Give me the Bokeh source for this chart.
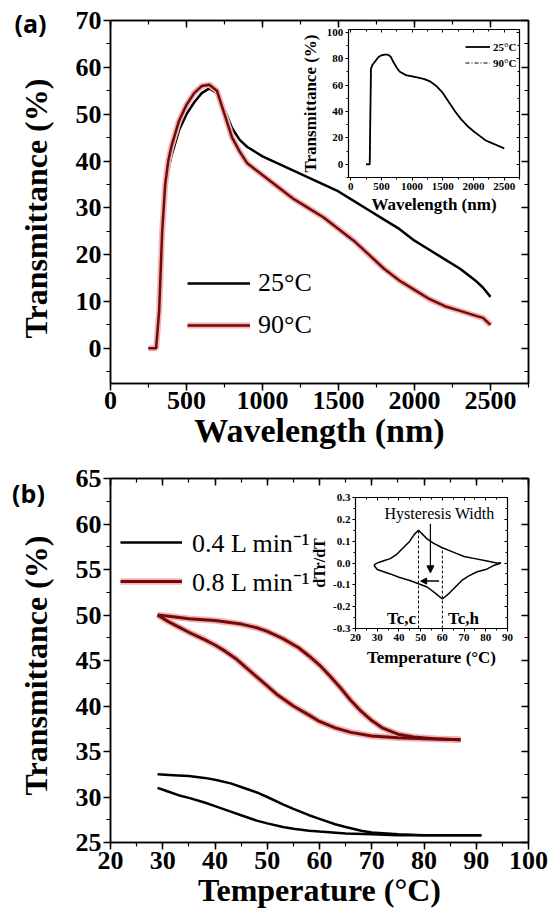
import numpy as np
from bokeh.plotting import figure
from bokeh.layouts import column, row
from bokeh.models import (Range1d, LinearAxis, SingleIntervalTicker, Legend,
                          LegendItem, Label, Arrow, NormalHead, PrintfTickFormatter)
from bokeh.embed import file_html
from bokeh.resources import INLINE

SERIF = "Liberation Serif"

# ---------------- data : panel (a) ----------------
wavelength = [250, 300, 320, 340, 360, 380, 400, 450, 500, 550, 600, 650, 700, 750, 800, 850, 900,
              1000, 1100, 1200, 1300, 1400, 1500, 1600, 1700, 1800, 1900, 2000, 2100, 2200, 2300,
              2400, 2450, 2500]
trans_25c = [0, 0, 8, 24, 33, 38, 41, 46.5, 50, 52.5, 54.5, 55.5, 54.5, 51, 47, 44.5, 43,
             41, 39.5, 38, 36.5, 35, 33.5, 31.5, 29.5, 27.5, 25.5, 23, 21, 19, 17,
             14.5, 13, 11]
trans_90c = [0, 0, 8, 25, 35, 40, 43, 48.5, 52, 54.5, 56, 56.3, 55, 50, 45, 42, 39.5,
             37, 34.5, 32, 30, 28, 25.5, 23, 20, 17, 14.5, 12.5, 10.5, 9, 8,
             7, 6.5, 5]

# inset (a)
inset_wl = [250, 310, 330, 350, 400, 450, 500, 550, 600, 650, 700, 750, 800, 900, 1000, 1100,
            1200, 1300, 1400, 1500, 1600, 1700, 1800, 1900, 2000, 2100, 2200, 2300, 2400, 2500]
inset_25c = [0, 0, 72, 75, 78, 81, 82.5, 83, 83, 81.5, 77, 73, 70, 67.5, 66.5, 65.5,
             64.5, 62.5, 59, 54, 47, 40, 34, 29, 25, 21.5, 18, 16, 14, 12]
inset_90c = [0, 0, 72, 75, 78, 81, 82.5, 83, 83, 81.5, 77, 73, 70, 67.5, 66.5, 65.5,
             64.5, 62.5, 59, 54, 47, 40, 34, 29, 25, 21.5, 18, 16, 14, 12]

# ---------------- data : panel (b) ----------------
t_red_up = [29, 32, 35, 40, 45, 48, 50, 53, 56, 58, 60, 62, 64, 66, 68, 70, 72, 75, 78, 82, 87]
tr_red_up = [50, 49.8, 49.6, 49.4, 49, 48.6, 48.2, 47.4, 46.4, 45.5, 44.5, 43.3, 42, 40.6, 39.4,
             38.4, 37.6, 36.9, 36.6, 36.4, 36.3]
t_red_low = [29, 31, 33, 35, 38, 40, 42, 44, 46, 48, 50, 52, 55, 58, 60, 63, 66, 70, 75, 80, 87]
tr_red_low = [50, 49.3, 48.7, 48.1, 47.3, 46.7, 46, 45.2, 44.2, 43.2, 42.2, 41.2, 40, 39, 38.3,
              37.6, 37.1, 36.7, 36.5, 36.4, 36.3]
t_blk_up = [29, 32, 35, 38, 40, 43, 45, 48, 50, 53, 55, 58, 60, 63, 65, 68, 70, 75, 80, 85, 91]
tr_blk_up = [32.5, 32.4, 32.3, 32.1, 31.9, 31.5, 31.1, 30.5, 30.0, 29.2, 28.7, 28.0, 27.6, 27.0,
             26.7, 26.3, 26.1, 25.9, 25.8, 25.8, 25.8]
t_blk_low = [29, 31, 33, 35, 38, 40, 43, 45, 48, 50, 53, 55, 58, 60, 65, 70, 75, 80, 85, 91]
tr_blk_low = [31.0, 30.6, 30.2, 29.9, 29.4, 29.0, 28.4, 28.0, 27.4, 27.1, 26.7, 26.5, 26.3, 26.2,
              26.0, 25.9, 25.8, 25.8, 25.8, 25.8]

# inset (b): dTr/dT loop
d_t_up = [28.5, 30, 33, 36, 39, 42, 45, 47, 49, 51, 53, 56, 60, 65, 70, 75, 80, 85, 87]
d_up = [-0.01, 0.0, 0.01, 0.02, 0.04, 0.07, 0.10, 0.13, 0.15, 0.13, 0.11, 0.09, 0.07, 0.05, 0.03,
        0.02, 0.01, 0.0, 0.0]
d_t_low = [28.5, 30, 33, 36, 40, 45, 49, 53, 57, 60, 63, 66, 69, 72, 76, 80, 84, 87]
d_low = [-0.01, -0.03, -0.04, -0.05, -0.065, -0.08, -0.095, -0.11, -0.14, -0.165, -0.14, -0.11,
         -0.08, -0.06, -0.04, -0.03, -0.01, 0.0]
tc_values = [49, 60]
tc_tops = [0.15, 0.07]

STRIP_W = 56
W, H = 551 - STRIP_W, 458
RED = "#720a0a"
HALO = "#f0b4b4"


def base_fig(xr, yr, frame):
    L, T, R, B = frame
    p = figure(width=W, height=H, x_range=Range1d(*xr), y_range=Range1d(*yr),
               output_backend="svg", toolbar_location=None,
               x_axis_type=None, y_axis_type=None,
               min_border_left=L, min_border_right=W - R, min_border_top=T,
               min_border_bottom=H - B,
               background_fill_color="white", border_fill_color="white",
               outline_line_color="black", outline_line_width=1.5)
    p.grid.visible = False
    return p


HIDDEN = dict(major_label_text_font_size="1px", major_label_text_color=None,
              major_label_text_alpha=0, major_label_standoff=0)
TITLE = dict(axis_label_text_font=SERIF, axis_label_text_font_style="bold",
             axis_label_text_color="black")


def main_axes(p, xint, yint, xtitle, xtitle_size, x_stand, x_lab_stand):
    style = dict(axis_line_width=1.5, axis_line_color="black", major_tick_line_width=1.5,
                 minor_tick_line_width=1.2, major_tick_line_color="black",
                 minor_tick_line_color="black")
    lab = dict(major_label_text_font=SERIF, major_label_text_font_style="bold",
               major_label_text_font_size="26px", major_label_text_color="black")
    outt = dict(major_tick_out=7, major_tick_in=0, minor_tick_out=4, minor_tick_in=0)
    inn = dict(major_tick_out=0, major_tick_in=7, minor_tick_out=0, minor_tick_in=4, **HIDDEN)
    p.add_layout(LinearAxis(ticker=SingleIntervalTicker(interval=xint, num_minor_ticks=2),
                            axis_label=xtitle, axis_label_text_font_size=xtitle_size,
                            axis_label_standoff=x_stand, major_label_standoff=x_lab_stand,
                            **TITLE, **style, **lab, **outt), "below")
    p.add_layout(LinearAxis(ticker=SingleIntervalTicker(interval=yint, num_minor_ticks=2),
                            major_label_standoff=2, **style, **lab, **outt), "left")
    p.add_layout(LinearAxis(ticker=SingleIntervalTicker(interval=xint, num_minor_ticks=2),
                            **style, **inn), "above")
    p.add_layout(LinearAxis(ticker=SingleIntervalTicker(interval=yint, num_minor_ticks=2),
                            **style, **inn), "right")


def inset_ranges(p, frame, box, xb, yb):
    L, T, R, B = frame
    l, t, r, b = box
    x0, x1 = xb
    y0, y1 = yb
    sx = (r - l) / (x1 - x0)
    sy = (b - t) / (y1 - y0)
    p.extra_x_ranges = {"ix": Range1d(x0 - (l - L) / sx, x1 + (R - r) / sx)}
    p.extra_y_ranges = {"iy": Range1d(y0 - (B - b) / sy, y1 + (t - T) / sy)}
    p.quad(left=[x0], right=[x1], bottom=[y0], top=[y1], fill_color="white",
           line_color=None, x_range_name="ix", y_range_name="iy")


def inset_axes(p, xb, yb, xint, yint, xlab, ylab, tick_font, xlab_font, ylab_font,
               xals, yals, yfmt=None, eps=0.0):
    x0, x1 = xb
    y0, y1 = yb
    rn = dict(x_range_name="ix", y_range_name="iy")
    style = dict(axis_line_width=1.2, axis_line_color="black", major_tick_line_width=1,
                 minor_tick_line_width=1, major_tick_line_color="black",
                 minor_tick_line_color="black")
    lab = dict(major_label_text_font=SERIF, major_label_text_font_style="bold",
               major_label_text_font_size=tick_font, major_label_text_color="black",
               major_label_standoff=2, **TITLE)
    outt = dict(major_tick_out=3, major_tick_in=0, minor_tick_out=2, minor_tick_in=0)
    inn = dict(major_tick_out=0, major_tick_in=3, minor_tick_out=0, minor_tick_in=2, **HIDDEN)
    ybnd = (y0 - eps, y1 + eps)
    bot = LinearAxis(fixed_location=y0, bounds=(x0, x1),
                     ticker=SingleIntervalTicker(interval=xint, num_minor_ticks=2),
                     axis_label=xlab, axis_label_text_font_size=xlab_font,
                     axis_label_standoff=xals, **rn, **style, **lab, **outt)
    p.add_layout(bot, "below")
    lft = LinearAxis(fixed_location=x0, bounds=ybnd,
                     ticker=SingleIntervalTicker(interval=yint, num_minor_ticks=2),
                     axis_label=ylab, axis_label_text_font_size=ylab_font,
                     axis_label_standoff=yals, **rn, **style, **lab, **outt)
    if yfmt is not None:
        lft.formatter = yfmt
    p.add_layout(lft, "left")
    p.add_layout(LinearAxis(fixed_location=y1, bounds=(x0, x1),
                            ticker=SingleIntervalTicker(interval=xint, num_minor_ticks=2),
                            **rn, **style, **inn), "above")
    p.add_layout(LinearAxis(fixed_location=x1, bounds=ybnd,
                            ticker=SingleIntervalTicker(interval=yint, num_minor_ticks=2),
                            **rn, **style, **inn), "right")


# ================= left strip: panel tags and y titles =================
strip = figure(width=STRIP_W, height=2 * H, x_range=Range1d(0, STRIP_W),
               y_range=Range1d(2 * H, 0), output_backend="svg", toolbar_location=None,
               x_axis_type=None, y_axis_type=None, min_border=0,
               outline_line_color=None, background_fill_color="white",
               border_fill_color="white")
strip.grid.visible = False
for sx_, sy_, txt, font, size, ang in [
        (30, 22, "(a)", "Open Sans", "25px", 0.0),
        (35, 208, "Transmittance (%)", SERIF, "32px", np.pi / 2),
        (28, 492, "(b)", "Open Sans", "25px", 0.0),
        (35, 665, "Transmittance (%)", SERIF, "32px", np.pi / 2)]:
    strip.add_layout(Label(x=sx_, y=sy_, text=txt, text_font=font, text_font_style="bold",
                           text_font_size=size, text_align="center", text_baseline="middle",
                           text_color="black", angle=ang))

# ================= panel (a) =================
FA = (110 - STRIP_W, 20, 532 - STRIP_W, 383)
XA, YA = (0, 2750), (-7.5, 70)
pa = base_fig(XA, YA, FA)
main_axes(pa, 500, 10, "Wavelength (nm)", "34px", 0, 1)

r25 = pa.line(wavelength, trans_25c, line_color="black", line_width=2.5)
r90h = pa.line(wavelength, trans_90c, line_color=HALO, line_width=6)
r90 = pa.line(wavelength, trans_90c, line_color=RED, line_width=2.5)

leg_a = Legend(items=[LegendItem(label="25°C", renderers=[r25]),
                      LegendItem(label="90°C", renderers=[r90h, r90])],
               location=(77, 43), padding=0, spacing=12, label_height=30, glyph_height=30,
               glyph_width=63, label_standoff=8, border_line_alpha=0,
               background_fill_alpha=0, label_text_font=SERIF, label_text_font_size="26px",
               label_text_color="black")
pa.add_layout(leg_a)

# inset (a)
IA_X, IA_Y = (-40, 2750), (-10, 102)
inset_ranges(pa, FA, (350 - STRIP_W, 29, 523 - STRIP_W, 177), IA_X, IA_Y)
ri25 = pa.line(inset_wl, inset_25c, line_color="black", line_width=1.8,
               x_range_name="ix", y_range_name="iy")
ri90 = pa.line(inset_wl, inset_90c, line_color="black", line_width=1, line_dash="4 2 1 2",
               x_range_name="ix", y_range_name="iy")
inset_axes(pa, IA_X, IA_Y, 500, 20, "Wavelength (nm)", "Transmittance (%)",
           "11px", "17px", "17px", 2, 4)
leg_ai = Legend(items=[LegendItem(label="25°C", renderers=[ri25]),
                       LegendItem(label="90°C", renderers=[ri90])],
                location=(355, 314), padding=0, spacing=3, label_height=13, glyph_height=13,
                glyph_width=25, label_standoff=3, border_line_alpha=0,
                background_fill_alpha=0, label_text_font=SERIF,
                label_text_font_style="bold", label_text_font_size="11px",
                label_text_color="black")
pa.add_layout(leg_ai)

# ================= panel (b) =================
FB = (110 - STRIP_W, 20, 528 - STRIP_W, 384)
XB, YB = (20, 100), (25, 65)
pb = base_fig(XB, YB, FB)
main_axes(pb, 10, 5, "Temperature (°C)", "32px", 0, 2)

rb4a = pb.line(t_blk_up, tr_blk_up, line_color="black", line_width=2.5)
rb4b = pb.line(t_blk_low, tr_blk_low, line_color="black", line_width=2.5)
rb8h1 = pb.line(t_red_up, tr_red_up, line_color=HALO, line_width=6.5)
rb8h2 = pb.line(t_red_low, tr_red_low, line_color=HALO, line_width=6.5)
rb8a = pb.line(t_red_up, tr_red_up, line_color=RED, line_width=3)
rb8b = pb.line(t_red_low, tr_red_low, line_color=RED, line_width=3)

leg_b = Legend(items=[LegendItem(label="0.4 L min⁻¹", renderers=[rb4a]),
                      LegendItem(label="0.8 L min⁻¹", renderers=[rb8h1, rb8a])],
               location=(10, 243), padding=0, spacing=3, label_height=34, glyph_height=34,
               glyph_width=62, label_standoff=10, border_line_alpha=0,
               background_fill_alpha=0, label_text_font=SERIF, label_text_font_size="26px",
               label_text_color="black")
pb.add_layout(leg_b)

# inset (b)
IB_X, IB_Y = (20, 90), (-0.3, 0.3)
inset_ranges(pb, FB, (355 - STRIP_W, 39, 507 - STRIP_W, 170), IB_X, IB_Y)
pb.line(d_t_up, d_up, line_color="black", line_width=1.5, x_range_name="ix", y_range_name="iy")
pb.line(d_t_low, d_low, line_color="black", line_width=1.5, x_range_name="ix", y_range_name="iy")
pb.segment(x0=tc_values, y0=[IB_Y[0]] * 2, x1=tc_values, y1=tc_tops, line_color="black",
           line_width=1, line_dash="3 2", x_range_name="ix", y_range_name="iy")
pb.add_layout(Arrow(end=NormalHead(size=7, fill_color="black", line_color="black"),
                    x_start=54.5, y_start=0.18, x_end=54.5, y_end=-0.045, line_width=1.2,
                    x_range_name="ix", y_range_name="iy"))
pb.add_layout(Arrow(end=NormalHead(size=6, fill_color="black", line_color="black"),
                    x_start=58.5, y_start=-0.083, x_end=50, y_end=-0.083, line_width=1.5,
                    x_range_name="ix", y_range_name="iy"))
inset_axes(pb, IB_X, IB_Y, 10, 0.1, "Temperature (°C)", "dTr/dT",
           "11px", "17px", "16px", 4, 2, yfmt=PrintfTickFormatter(format="%.1f"), eps=1e-4)
for tx, ty, tt, bold, fs in [(58.7, 0.229, "Hysteresis Width", False, "16px"),
                             (41.2, -0.252, "Tc,c", True, "17px"),
                             (69.7, -0.252, "Tc,h", True, "17px")]:
    pb.add_layout(Label(x=tx, y=ty, text=tt, x_range_name="ix", y_range_name="iy",
                        text_font=SERIF, text_font_style="bold" if bold else "normal",
                        text_font_size=fs, text_align="center", text_baseline="middle",
                        text_color="black"))

layout = row(strip, column(pa, pb, spacing=0), spacing=0)
open("out.html", "w").write(file_html(layout, INLINE))
